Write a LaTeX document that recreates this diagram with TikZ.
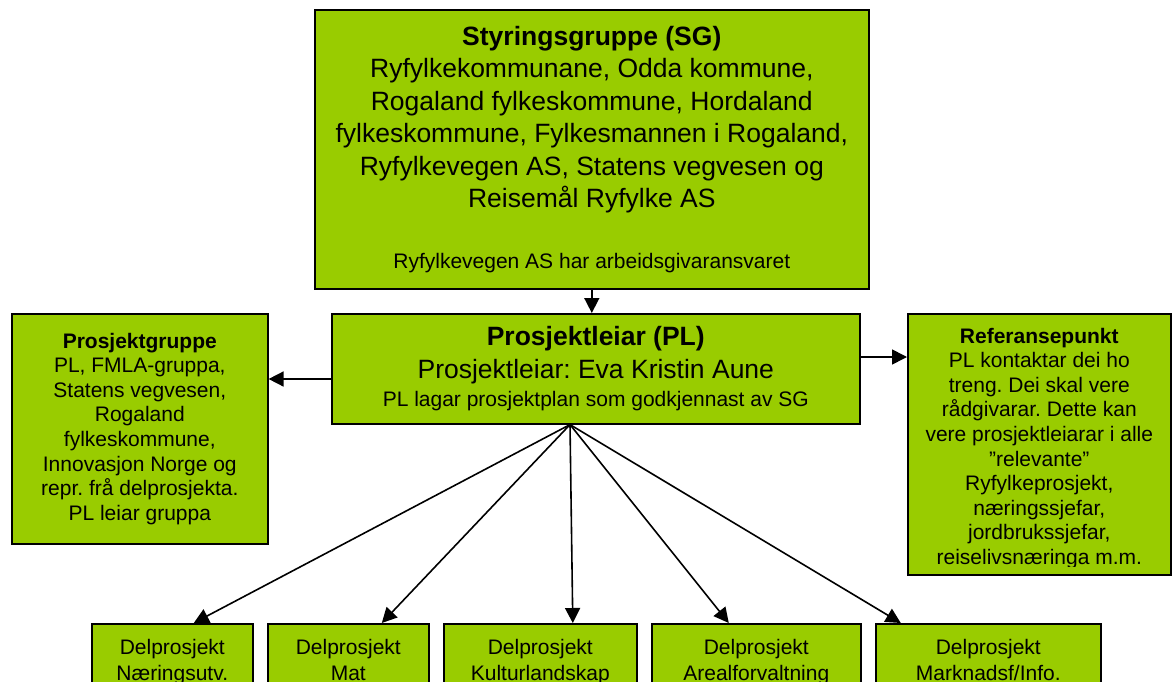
\documentclass[tikz,border=0pt]{standalone}
\usepackage{fontspec}
\setmainfont{Liberation Sans}
\usetikzlibrary{arrows.meta}
\usetikzlibrary{calc}
\usepackage{xcolor}

\definecolor{boxgreen}{HTML}{99CC00}
\newcommand{\bigfont}{\fontsize{26.5}{32.5}\selectfont}
\newcommand{\smallfont}{\fontsize{21}{24.6}\selectfont}
\newcommand{\delfont}{\fontsize{21}{26.5}\selectfont}
\frenchspacing

\begin{document}
\begin{tikzpicture}[x=1pt, y=-1pt,
  box/.style={draw=black, fill=boxgreen, line width=1.6pt, inner sep=0pt, anchor=north west, align=center},
  arr/.style={-{Triangle[length=15pt, width=15pt]}, line width=1.6pt, black}]

\useasboundingbox (0,0) rectangle (1173,682);
\clip (0,0) rectangle (1173,682);

%top boxes
\node[box, font=\bigfont, minimum width=554pt, minimum height=279pt] (sg) at (314,9)
  {{\bfseries Styringsgruppe (SG)}\\ Ryfylkekommunane, Odda kommune,\\ Rogaland fylkeskommune, Hordaland\\ fylkeskommune, Fylkesmannen i Rogaland,\\ Ryfylkevegen AS, Statens vegvesen og\\ Reisemål Ryfylke AS\\[28pt] {\smallfont Ryfylkevegen AS har arbeidsgivaransvaret}};
\node[box, font=\bigfont, minimum width=528pt, minimum height=110pt] (pl) at (331,313)
  {{\bfseries Prosjektleiar (PL)}\\ Prosjektleiar: Eva Kristin Aune\\[-4pt] {\smallfont PL lagar prosjektplan som godkjennast av SG}};
\node[box, font=\smallfont, minimum width=256pt, minimum height=230pt] (pg) at (11,313)
  {{\bfseries Prosjektgruppe}\\ PL, FMLA-gruppa,\\ Statens vegvesen,\\ Rogaland\\ fylkeskommune,\\ Innovasjon Norge og\\ repr. frå delprosjekta.\\ PL leiar gruppa};
\node[box, minimum width=263pt, minimum height=261pt] (ref) at (907,313) {};
\begin{scope}
  \clip (ref.north west) rectangle ($(ref.south east)+(0,-9)$);
  \node[font=\smallfont, align=center, inner sep=0pt] (reftxt) at ($(ref.center)+(0,4)$)
    {{\bfseries Referansepunkt}\\ PL kontaktar dei ho\\ treng. Dei skal vere\\ rådgivarar. Dette kan\\ vere prosjektleiarar i alle\\ ”relevante”\\ Ryfylkeprosjekt,\\ næringssjefar,\\ jordbrukssjefar,\\ reiselivsnæringa m.m.};
\end{scope}

%delprosjekt
\node[box, font=\delfont, minimum width=161pt, minimum height=80pt] (d1) at (91,623) {Delprosjekt\\ Næringsutv.\strut};
\node[box, font=\delfont, minimum width=161pt, minimum height=80pt] (d2) at (267,623) {Delprosjekt\\ Mat\strut};
\node[box, font=\delfont, minimum width=193pt, minimum height=80pt] (d3) at (443,623) {Delprosjekt\\ Kulturlandskap\strut};
\node[box, font=\delfont, minimum width=209pt, minimum height=80pt] (d4) at (651,623) {Delprosjekt\\ Arealforvaltning\strut};
\node[box, font=\delfont, minimum width=225pt, minimum height=80pt] (d5) at (875,623) {Delprosjekt\\ Marknadsf/Info.\strut};

%arrows
\draw[arr] (sg.south) -- (sg.south |- pl.north);
\draw[arr] (pl.west |- 0,379) -- (pg.east |- 0,379);
\draw[arr] (pl.east |- 0,357) -- (ref.west |- 0,357);
\coordinate (plfoot) at (pl.south -| 570,0);
\draw[arr] (plfoot) -- ([xshift=21.5pt]d1.north);
\draw[arr] (plfoot) -- ([xshift=33.5pt]d2.north);
\draw[arr] (plfoot) -- ([xshift=32.5pt]d3.north);
\draw[arr] (plfoot) -- ([xshift=-27.5pt]d4.north);
\draw[arr] (plfoot) -- ([xshift=-87.5pt]d5.north);

\end{tikzpicture}
\end{document}
